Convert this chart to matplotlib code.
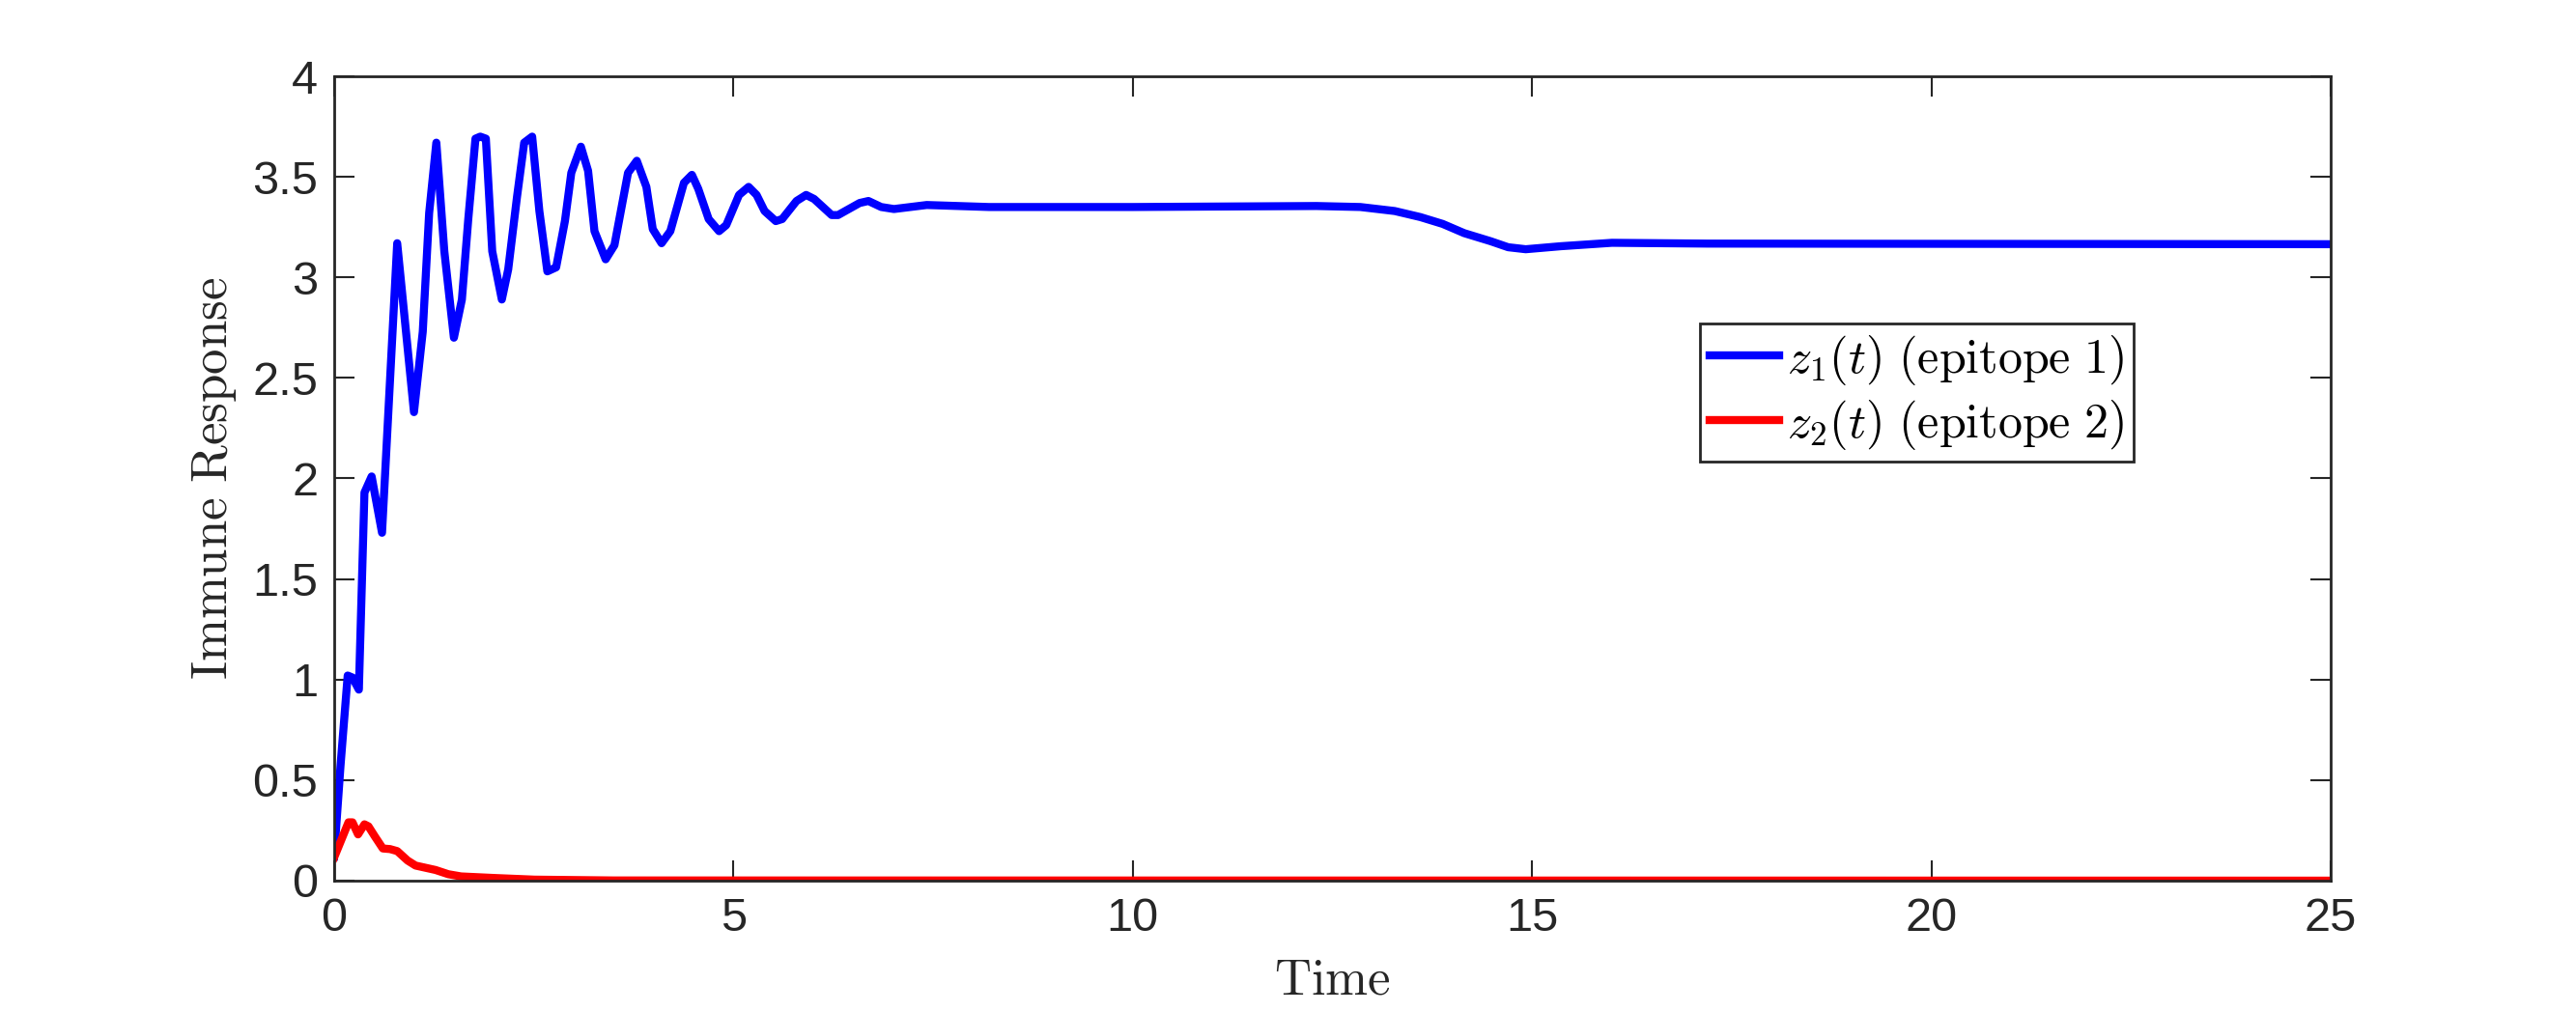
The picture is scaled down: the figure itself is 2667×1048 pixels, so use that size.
import matplotlib
matplotlib.use("Agg")
import matplotlib.pyplot as plt

# epitope 1 response
t1 = [0, 0.08, 0.17, 0.23, 0.31, 0.38, 0.47, 0.60, 0.79, 1.00, 1.11, 1.19, 1.28,
      1.38, 1.50, 1.60, 1.68, 1.77, 1.83, 1.90, 1.98, 2.10, 2.18, 2.29, 2.38,
      2.48, 2.57, 2.67, 2.78, 2.89, 2.97, 3.09, 3.18, 3.26, 3.40, 3.51, 3.68,
      3.79, 3.91, 3.99, 4.10, 4.21, 4.38, 4.48, 4.56, 4.69, 4.82, 4.91, 5.07,
      5.19, 5.29, 5.39, 5.53, 5.61, 5.79, 5.91, 6.01, 6.23, 6.31, 6.58, 6.69,
      6.85, 7.01, 7.42, 8.2, 10.0, 12.3, 12.85, 13.28, 13.6, 13.88, 14.15,
      14.48, 14.70, 14.92, 15.36, 16.0, 17.2, 25]
z1 = [0.12, 0.57, 1.02, 1.01, 0.95, 1.93, 2.01, 1.73, 3.17, 2.33, 2.73, 3.32, 3.67,
      3.13, 2.70, 2.89, 3.29, 3.69, 3.70, 3.69, 3.13, 2.89, 3.04, 3.40, 3.67,
      3.70, 3.33, 3.03, 3.05, 3.28, 3.52, 3.65, 3.53, 3.23, 3.09, 3.16, 3.52,
      3.58, 3.45, 3.24, 3.17, 3.23, 3.47, 3.51, 3.44, 3.29, 3.23, 3.26, 3.41,
      3.45, 3.41, 3.33, 3.28, 3.29, 3.38, 3.41, 3.39, 3.31, 3.31, 3.37, 3.38,
      3.35, 3.34, 3.36, 3.35, 3.35, 3.355, 3.35, 3.33, 3.30, 3.266, 3.22,
      3.18, 3.15, 3.14, 3.155, 3.172, 3.168, 3.165]

# epitope 2 response
t2 = [0, 0.18, 0.23, 0.30, 0.38, 0.43, 0.51, 0.61, 0.70, 0.79, 0.92, 1.02, 1.27,
      1.43, 1.59, 2.02, 2.51, 3.5, 25]
z2 = [0.115, 0.29, 0.29, 0.23, 0.28, 0.27, 0.22, 0.16, 0.157, 0.147, 0.10, 0.075,
      0.053, 0.032, 0.021, 0.013, 0.005, 0.001, 0]

plt.rcParams['mathtext.fontset'] = 'cm'
plt.rcParams['font.family'] = ['Liberation Sans', 'DejaVu Sans']

fig = plt.figure(figsize=(26.67, 10.48), dpi=100)
ax = fig.add_axes([0.1297, 0.1298, 0.7751, 0.7948])

ax.plot(t1, z1, color='#0000ff', lw=6, label=r'$z_1(t)\ \mathrm{(epitope\ 1)}$')
ax.plot(t2, z2, color='#ff0000', lw=6, label=r'$z_2(t)\ \mathrm{(epitope\ 2)}$')

ax.set_xlim(0, 25)
ax.set_ylim(0, 4)
ax.set_xticks([0, 5, 10, 15, 20, 25])
ax.set_yticks([0, 0.5, 1, 1.5, 2, 2.5, 3, 3.5, 4])
ax.set_yticklabels(['0', '0.5', '1', '1.5', '2', '2.5', '3', '3.5', '4'])

dark = '#262626'
for s in ax.spines.values():
    s.set_color(dark)
    s.set_linewidth(2)
ax.tick_params(direction='in', length=15, width=1.5, color=dark, labelcolor=dark,
               labelsize=35, top=True, right=True, pad=12)

ax.set_xlabel(r'$\mathrm{Time}$', fontsize=38, color=dark, labelpad=12)
ax.set_ylabel(r'$\mathrm{Immune\ Response}$', fontsize=38, color=dark, labelpad=10)

leg = ax.legend(loc='upper left', bbox_to_anchor=(0.684, 0.6927), borderaxespad=0,
                fontsize=36, fancybox=False, framealpha=1, handlelength=1.45,
                handletextpad=0.15, borderpad=0.2, labelspacing=0.22)
leg.get_frame().set_edgecolor(dark)
leg.get_frame().set_linewidth(2)

plt.savefig('out.png', dpi=100)
